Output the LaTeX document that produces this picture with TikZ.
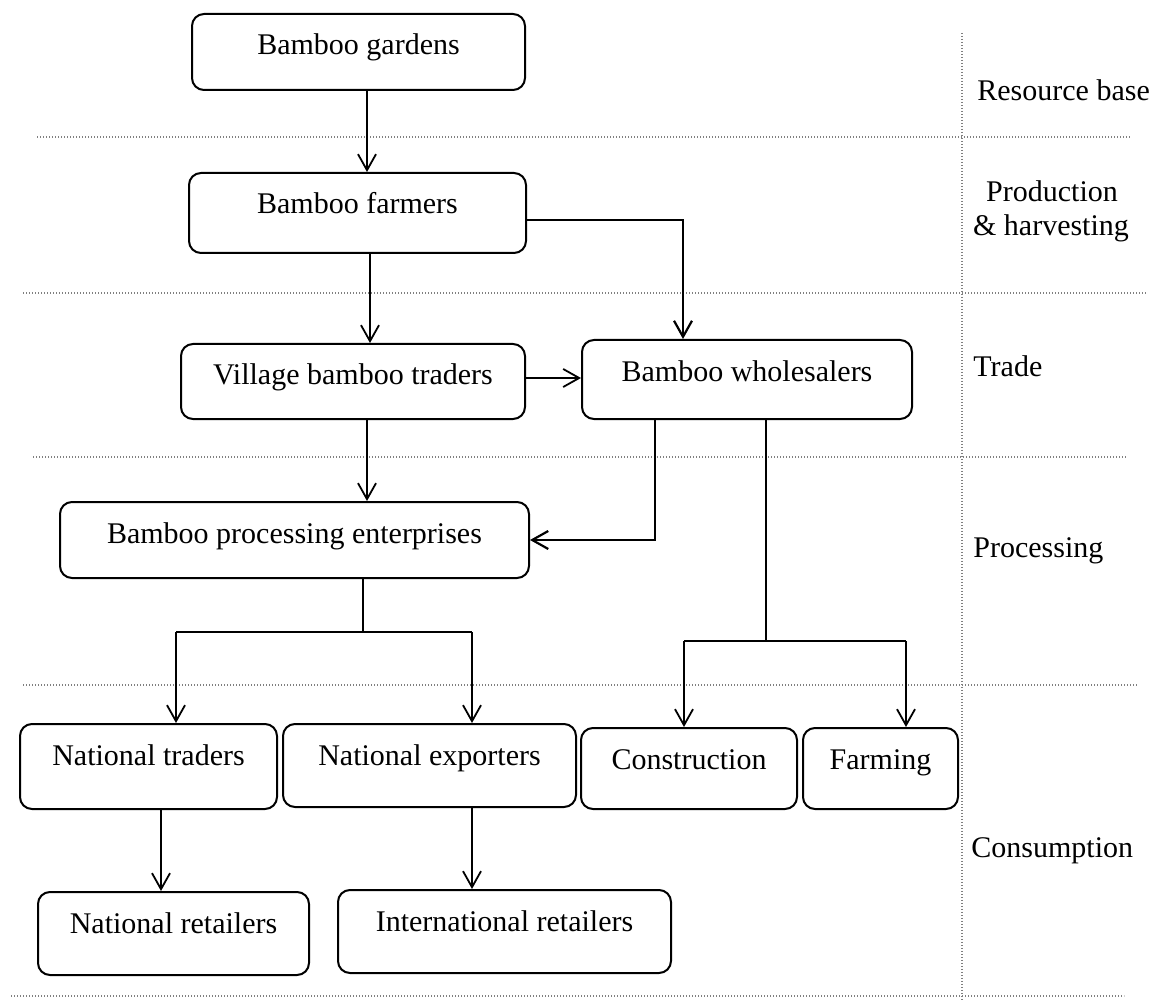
\documentclass[tikz,border=0pt]{standalone}
\usepackage{fontspec}
\setmainfont{Liberation Serif}
\usetikzlibrary{arrows.meta}

\begin{document}
\begin{tikzpicture}[x=0.5pt,y=-0.5pt,
    font=\fontsize{15pt}{17.5pt}\selectfont,
    box/.style={draw, line width=1pt, rounded corners=6pt, anchor=north west,
        inner xsep=0pt, inner ysep=0pt, text height=20.5pt},
    flow/.style={line width=0.9pt, -{Straight Barb[length=8pt,width=9pt]}},
    trunk/.style={line width=1.3pt},
    sep/.style={gray, line width=0.7pt, dash pattern=on 0.7pt off 0.8pt},
    stage/.style={anchor=base west, inner sep=0pt}]
    \useasboundingbox (0,0) rectangle (1157,1000);

    % Stage separators
    \foreach \y/\xa/\xb in {137/37/1130, 293/23/1146, 457/33/1127, 685/23/1137, 996/11/1124}{
        \draw[sep] (\xa,\y) -- (\xb,\y);
      }
    \draw[sep] (962,33) -- (962,1000);

    % Stage names
    \node[stage] (resource) at (977,101) {Resource base};
    \node[anchor=base, inner sep=0pt] (prodA) at (1052,202) {Production};
    \node[anchor=base, inner sep=0pt] (prodB) at (1051,236) {\& harvesting};
    \node[stage] (trade) at (973,377) {Trade};
    \node[stage] (processing) at (973,557) {Processing};
    \node[stage] (consumption) at (971,857) {Consumption};

    % Actors
    \node[box, minimum width=166.5pt, text depth=17.5pt] (gardens) at (191,13) {Bamboo gardens};
    \node[box, minimum width=168.5pt, text depth=19.5pt] (farmers) at (188,172) {Bamboo farmers};
    \node[box, minimum width=172pt, text depth=17pt] (village) at (180,343) {Village bamboo traders};
    \node[box, minimum width=165pt, text depth=19pt] (wholesalers) at (581,339) {Bamboo wholesalers};
    \node[box, minimum width=234.5pt, text depth=17.5pt] (enterprises) at (59,501) {Bamboo processing enterprises};
    \node[box, minimum width=128.5pt, text depth=22pt] (ntraders) at (19,723) {National traders};
    \node[box, minimum width=146.5pt, text depth=21pt] (nexporters) at (282,723) {National exporters};
    \node[box, minimum width=108pt, text depth=20pt] (construction) at (580,727) {Construction};
    \node[box, minimum width=77.5pt, text depth=20pt] (farming) at (802,727) {Farming};
    \node[box, minimum width=135.5pt, text depth=21pt] (nretailers) at (37,891) {National retailers};
    \node[box, minimum width=166.5pt, text depth=21pt] (iretailers) at (337,889) {International retailers};

    % Flows between actors
    \draw[flow] ([xshift=4.25pt]gardens.south) -- ([xshift=4.25pt]gardens.south |- farmers.north);
    \draw[flow] ([xshift=6.25pt]farmers.south) -- ([xshift=6.25pt]farmers.south |- village.north);
    \draw[flow, line width=1.1pt] ([yshift=-3.5pt]farmers.east) -| ([xshift=-32pt]wholesalers.north);
    \draw[flow] ([yshift=1.75pt]village.east) -- ([yshift=1.75pt]village.east -| wholesalers.west);
    \draw[flow] ([xshift=7pt]village.south) -- ([xshift=7pt]village.south |- enterprises.north);
    \draw[flow, line width=1.1pt] ([xshift=-46pt]wholesalers.south) |- (enterprises.east);

    % Wholesalers to end uses
    \coordinate (wsplit) at ([xshift=9.5pt]wholesalers.south |- 0,641);
    \draw[trunk] ([xshift=9.5pt]wholesalers.south) -- (wsplit);
    \draw[trunk] ([xshift=-2.5pt]construction.north |- wsplit) -- ([xshift=12.75pt]farming.north |- wsplit);
    \draw[flow] ([xshift=-2.5pt]construction.north |- wsplit) -- ([xshift=-2.5pt]construction.north);
    \draw[flow] ([xshift=12.75pt]farming.north |- wsplit) -- ([xshift=12.75pt]farming.north);

    % Enterprises to national traders and exporters
    \coordinate (psplit) at ([xshift=34.25pt]enterprises.south |- 0,632);
    \draw[trunk] ([xshift=34.25pt]enterprises.south) -- (psplit);
    \draw[trunk] ([xshift=13.75pt]ntraders.north |- psplit) -- ([xshift=21.25pt]nexporters.north |- psplit);
    \draw[flow] ([xshift=13.75pt]ntraders.north |- psplit) -- ([xshift=13.75pt]ntraders.north);
    \draw[flow] ([xshift=21.25pt]nexporters.north |- psplit) -- ([xshift=21.25pt]nexporters.north);

    % Retail
    \draw[flow] ([xshift=6.25pt]ntraders.south) -- ([xshift=6.25pt]ntraders.south |- nretailers.north);
    \draw[flow] ([xshift=21.25pt]nexporters.south) -- ([xshift=21.25pt]nexporters.south |- iretailers.north);
\end{tikzpicture}
\end{document}
